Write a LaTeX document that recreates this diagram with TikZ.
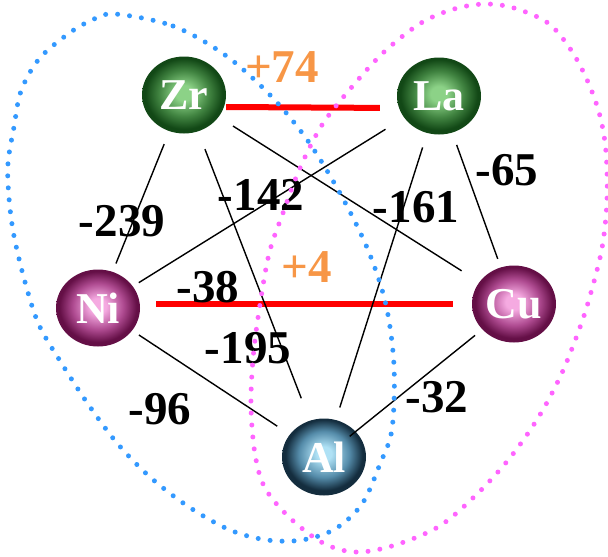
\documentclass[tikz,border=0pt]{standalone}
\usepackage{fontspec}
\setmainfont{Liberation Serif}
\usetikzlibrary{shapes.geometric}
\definecolor{gLight}{RGB}{140,210,135}
\definecolor{gMid}{RGB}{65,132,65}
\definecolor{gDark}{RGB}{18,72,22}
\definecolor{pLight}{RGB}{245,170,225}
\definecolor{pMid}{RGB}{175,75,145}
\definecolor{pDark}{RGB}{100,15,70}
\definecolor{bLight}{RGB}{175,225,245}
\definecolor{bMid}{RGB}{85,140,170}
\definecolor{bDark}{RGB}{20,45,62}
\definecolor{gainorange}{RGB}{247,150,70}
\definecolor{loopblue}{RGB}{51,153,255}
\definecolor{looppink}{RGB}{255,100,255}
\pgfdeclareradialshading{greenball}{\pgfpoint{0bp}{1.5bp}}{color(0bp)=(gLight); color(5bp)=(gLight); color(15bp)=(gMid); color(23bp)=(gDark); color(50bp)=(gDark)}
\pgfdeclareradialshading{purpleball}{\pgfpoint{0bp}{1.5bp}}{color(0bp)=(pLight); color(5bp)=(pLight); color(15bp)=(pMid); color(23bp)=(pDark); color(50bp)=(pDark)}
\pgfdeclareradialshading{blueball}{\pgfpoint{0bp}{2.5bp}}{color(0bp)=(bLight); color(4.5bp)=(bLight); color(15bp)=(bMid); color(23bp)=(bDark); color(50bp)=(bDark)}
\tikzset{
  atom/.style={ellipse,minimum width=84pt,minimum height=77pt,inner sep=0pt,
    text=white,font=\fontsize{44}{44}\selectfont\bfseries},
  bond/.style={black,line width=1.4pt},
  gapline/.style={red,line width=6pt},
  val/.style={inner sep=0pt,font=\fontsize{47}{47}\selectfont\bfseries},
  gain/.style={val,text=gainorange},
  dotloop/.style={line width=5pt,line cap=round,dash pattern=on 0pt off 12pt}
}
\begin{document}
\begin{tikzpicture}[x=1pt,y=-1pt]
\useasboundingbox (0,0) rectangle (608,557);
% atoms
\node[atom,shading=greenball] (Zr) at (184,95) {Zr};
\node[atom,shading=greenball] (La) at (439,96) {La};
\node[atom,shading=purpleball] (Ni) at (98,308) {Ni};
\node[atom,shading=purpleball] (Cu) at (514,304) {Cu};
\node[atom,shading=blueball] (Al) at (324,457) {Al};
% positive pairs
\draw[gapline,shorten >=17pt] ([yshift=-12pt]Zr.east) -- ([yshift=-12pt]La.west);
\draw[gapline,shorten <=16pt,shorten >=19pt] ([yshift=4pt]Ni.east) -- (Cu.west);
% bonds
\foreach \a/\b/\s/\e in {Zr/Ni/53/48,Zr/Al/58/63,Zr/Cu/58/62,La/Ni/63/48,
  La/Al/54/52,La/Cu/52/48,Ni/Al/49/56,Cu/Al/50/33}
  \draw[bond,shorten <=\s pt,shorten >=\e pt] (\a.center) -- (\b.center);
% values
\node[gain] (p74) at (282,67) {+74};
\node[gain] (p4) at (307,267) {+4};
\node[val] (m239) at (122,221) {-239};
\node[val] (m142) at (261,195) {-142};
\node[val] (m161) at (416,207) {-161};
\node[val] (m65) at (507,170) {-65};
\node[val] (m38) at (208,287) {-38};
\node[val] (m195) at (248,348) {-195};
\node[val] (m96) at (160,409) {-96};
\node[val] (m32) at (437,397) {-32};
% groups
\draw[dotloop,loopblue] plot[smooth cycle,tension=0.55] coordinates {
  (115,14) (173,26) (225,55) (271,96) (308,141) (341,195) (368,250)
  (386,305) (394,366) (392,429) (380,464) (362,504) (335,529) (302,540)
  (267,540) (230,530) (189,507) (150,477) (117,443) (88,404) (62,364)
  (39,325) (25,282) (14,236) (9,198) (8,163) (14,127) (21,91) (39,59)
  (68,34) (92,20)};
\draw[dotloop,looppink] plot[smooth cycle,tension=0.55] coordinates {
  (485,4) (514,8) (548,23) (571,50) (588,82) (600,116) (606,152)
  (607,200) (602,248) (590,296) (579,330) (561,375) (538,418) (509,459)
  (475,496) (438,527) (392,546) (355,552) (323,543) (290,518) (265,488)
  (255,454) (251,407) (253,359) (259,311) (269,254) (283,213) (300,168)
  (322,125) (351,88) (384,52) (421,23) (454,9)};
\end{tikzpicture}
\end{document}
